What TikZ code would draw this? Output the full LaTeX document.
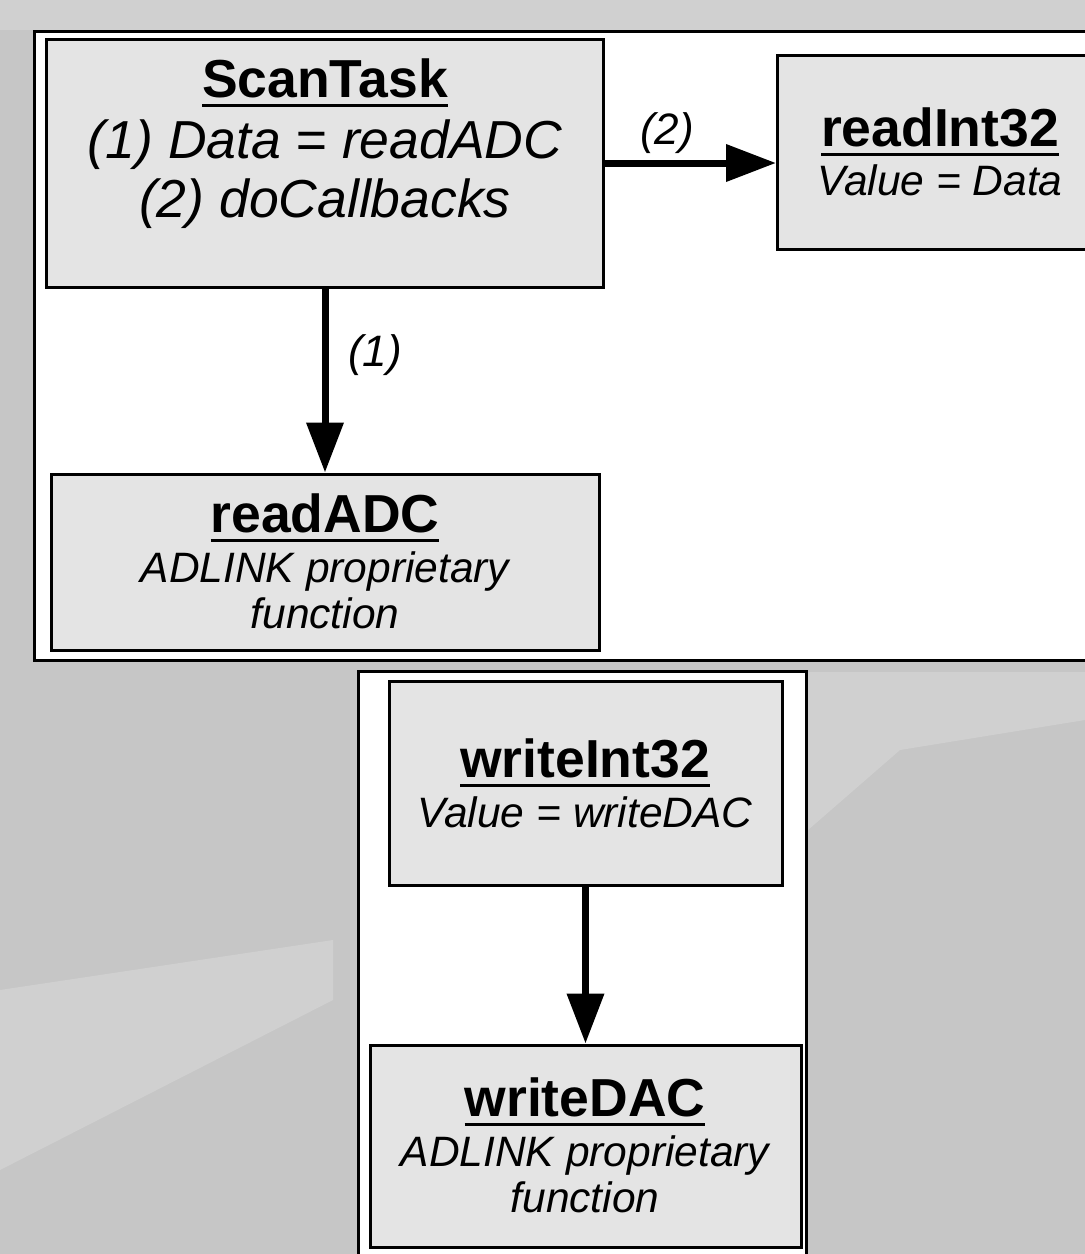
\documentclass[tikz,border=0pt]{standalone}
\usepackage{fontspec}
\setmainfont{Liberation Sans}
\usetikzlibrary{arrows.meta}
\definecolor{bgcol}{HTML}{C6C6C6}
\definecolor{bglight}{HTML}{D0D0D0}
\definecolor{boxfill}{HTML}{E4E4E4}
\newcommand\myul[1]{\setbox0\hbox{#1}\rlap{\rule[-10pt]{\wd0}{3.5pt}}\box0}
\begin{document}
\begin{tikzpicture}[x=1pt,y=-1pt,
  frame/.style={draw=black,line width=3pt,fill=white,inner sep=0pt},
  fbox/.style={draw=black,line width=3pt,fill=boxfill,inner sep=0pt},
  ttl/.style={anchor=base,inner sep=0pt,font=\fontsize{53.5}{60}\selectfont\bfseries},
  big/.style={anchor=base,inner sep=0pt,font=\fontsize{53.5}{60}\selectfont\itshape},
  sub/.style={anchor=base,inner sep=0pt,font=\fontsize{42.5}{48}\selectfont\itshape},
  lbl/.style={anchor=base,inner sep=0pt,font=\fontsize{44}{48}\selectfont\itshape},
  arr/.style={line width=7pt,-{Triangle[length=50pt,width=36pt]}}
]
\useasboundingbox (0,0) rectangle (1085,1254);
\clip (0,0) rectangle (1085,1254);
% background
\fill[bgcol] (0,0) rectangle (1085,1254);
\fill[bglight] (0,0) rectangle (1085,30);
\fill[bglight] (0,990) -- (333,940) -- (333,1000) -- (0,1170) -- cycle;
\fill[bglight] (808,672) -- (1085,672) -- (1085,720) -- (900,750) -- (808,830) -- cycle;
% frames
\node[frame,minimum width=1076pt,minimum height=629pt] (topframe) at (572,346) {};
\node[frame,minimum width=448pt,minimum height=600pt] (botframe) at (582.5,971) {};
% boxes
\node[fbox,minimum width=557pt,minimum height=248pt] (scan) at (325,163) {};
\node[fbox,minimum width=332pt,minimum height=194pt] (ri) at (943.5,152) {};
\node[fbox,minimum width=548pt,minimum height=176pt] (adc) at (325,562) {};
\node[fbox,minimum width=393pt,minimum height=204pt] (wi) at (585.5,783) {};
\node[fbox,minimum width=431pt,minimum height=202pt] (dac) at (585.5,1146) {};
% texts
\node[ttl] (scan-t) at (325,97) {\myul{ScanTask}};
\node[big] (scan-1) at (325,158) {(1) Data = readADC};
\node[big] (scan-2) at (325,217) {(2) doCallbacks};
\node[ttl] (ri-t) at (940,146) {\myul{readInt32}};
\node[sub] (ri-1) at (940,195) {Value = Data};
\node[ttl] (adc-t) at (325,532) {\myul{readADC}};
\node[sub] (adc-1) at (325,582) {ADLINK proprietary};
\node[sub] (adc-2) at (325,628) {function};
\node[ttl] (wi-t) at (585,777) {\myul{writeInt32}};
\node[sub] (wi-1) at (585,827) {Value = writeDAC};
\node[ttl] (dac-t) at (585,1116) {\myul{writeDAC}};
\node[sub] (dac-1) at (585,1166) {ADLINK proprietary};
\node[sub] (dac-2) at (585,1212) {function};
% connectors
\draw[arr] (scan.east) -- (scan.east -| ri.west);
\draw[arr] (scan.south) -- (adc.north);
\draw[arr] (wi.south) -- (dac.north);
\node[lbl] (lbl2) at (667,144) {(2)};
\node[lbl] (lbl1) at (375,366) {(1)};
\end{tikzpicture}
\end{document}
